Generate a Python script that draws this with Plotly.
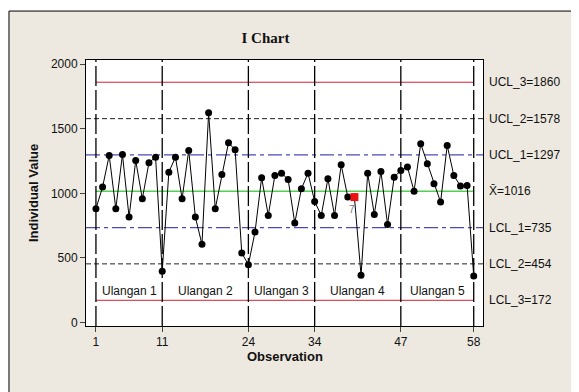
import plotly.graph_objects as go

# ---- data ----
observations = list(range(1, 59))
values = [881, 1048, 1293, 881, 1301, 816, 1254, 958, 1237, 1280,
          396, 1164, 1280, 958, 1332, 816, 605, 1623, 881, 1146,
          1391, 1337, 538, 448, 700, 1121, 829, 1138, 1156, 1107,
          770, 1035, 1156, 937, 829, 1113, 829, 1221, 971, 971,
          365, 1156, 837, 1169, 759, 1125, 1177, 1203, 1017, 1383,
          1229, 1074, 932, 1370, 1138, 1056, 1061, 360]
flagged_obs = [40]
flag_test = ["7"]

limit_names = ["UCL_3", "UCL_2", "UCL_1", "X̄", "LCL_1", "LCL_2", "LCL_3"]
limit_values = [1860, 1578, 1297, 1016, 735, 454, 172]
limit_kind = ["red", "black", "blue", "green", "blue", "black", "red"]

stage_bounds = [1, 11, 24, 34, 47, 58]
stage_labels = ["Ulangan 1", "Ulangan 2", "Ulangan 3", "Ulangan 4", "Ulangan 5"]
stage_label_y = 241

x_ticks = [1, 11, 24, 34, 47, 58]
y_ticks = [0, 500, 1000, 1500, 2000]

# ---- styles ----
BEIGE = "#EDE9E0"
FONT = "Liberation Sans"
styles = {
    "red": dict(color="#CC2233", width=1, dash="solid"),
    "black": dict(color="#222222", width=1, dash="5px,3px"),
    "blue": dict(color="#4B4BB8", width=1.3, dash="14px,4px,4px,4px"),
    "green": dict(color="#55D055", width=1.5, dash="solid"),
}

fig = go.Figure()

shapes = []
# outer beige panel
shapes.append(dict(type="rect", xref="paper", yref="paper", x0=-0.194, x1=1.35,
                   y0=-0.35, y1=1.184, fillcolor=BEIGE,
                   line=dict(color="black", width=1), layer="below"))
# plot area white
shapes.append(dict(type="rect", xref="paper", yref="paper", x0=0, x1=1, y0=0, y1=1,
                   fillcolor="white", line=dict(width=0), layer="below"))

# stage boundary lines
for b in stage_bounds:
    shapes.append(dict(type="line", xref="x", yref="paper", x0=b, x1=b, y0=0, y1=1,
                       line=dict(color="black", width=1.3, dash="20px,4px"), layer="above"))

# limit lines
for v, k in zip(limit_values, limit_kind):
    st = styles[k]
    if k in ("red", "green"):
        shapes.append(dict(type="line", xref="x", yref="y", x0=stage_bounds[0], x1=stage_bounds[-1],
                           y0=v, y1=v, line=st, layer="below"))
    else:
        shapes.append(dict(type="line", xref="paper", yref="y", x0=0, x1=1.008 if k == "black" else 1,
                           y0=v, y1=v, line=st, layer="below"))

fig.update_layout(shapes=shapes)

# data line
fig.add_trace(go.Scatter(x=observations, y=values, mode="lines+markers",
                         line=dict(color="black", width=1),
                         marker=dict(color="black", size=7, symbol="circle"),
                         hoverinfo="x+y", showlegend=False, cliponaxis=False))
# flagged points
fx = flagged_obs
fy = [values[o - 1] for o in flagged_obs]
fig.add_trace(go.Scatter(x=fx, y=fy, mode="markers",
                         marker=dict(color="#EE1111", size=8, symbol="square"),
                         showlegend=False))

annotations = []
for o, y, t in zip(fx, fy, flag_test):
    annotations.append(dict(x=o, y=y, xref="x", yref="y", text=t, showarrow=False,
                            yshift=-12, xshift=-2, font=dict(family=FONT, size=10, color="#777777")))

# stage labels
for i, lab in enumerate(stage_labels):
    mid = (stage_bounds[i] + stage_bounds[i + 1]) / 2
    annotations.append(dict(x=mid, y=stage_label_y, xref="x", yref="y", text=lab,
                            showarrow=False, font=dict(family=FONT, size=12, color="#111111")))

# right limit labels
for n, v in zip(limit_names, limit_values):
    annotations.append(dict(x=1, y=v, xref="paper", yref="y", text=f"{n}={v}",
                            xanchor="left", xshift=4, showarrow=False,
                            font=dict(family=FONT, size=12, color="#111111")))

# axis titles
annotations.append(dict(x=0.5, y=-0.113, xref="paper", yref="paper", text="<b>Observation</b>",
                        xanchor="center", yanchor="middle",
                        showarrow=False, font=dict(family=FONT, size=13, color="#111111")))
annotations.append(dict(x=-0.1335, y=0.5, xref="paper", yref="paper", text="<b>Individual Value</b>",
                        xanchor="center", yanchor="middle",
                        textangle=-90, showarrow=False, font=dict(family=FONT, size=13, color="#111111")))

fig.update_layout(
    width=571, height=384,
    margin=dict(l=78, r=96, t=52, b=66),
    paper_bgcolor="white",
    plot_bgcolor="rgba(0,0,0,0)",
    title=dict(text="<b>I Chart</b>", x=0.452, xref="paper", y=1 - 30 / 384, yref="container",
               xanchor="center", yanchor="middle",
               font=dict(family="Liberation Serif", size=15, color="#111111")),
    annotations=annotations,
    font=dict(family=FONT, size=12, color="#111111"),
    xaxis=dict(range=[-0.5, 59.4], tickvals=x_ticks, ticks="outside", ticklen=5,
               showgrid=False, zeroline=False, showline=True, linecolor="black",
               mirror=True, tickfont=dict(family=FONT, size=12, color="#111111")),
    yaxis=dict(range=[-27, 2032], tickvals=y_ticks, ticks="outside", ticklen=5,
               showgrid=False, zeroline=False, showline=True, linecolor="black",
               mirror=True, tickfont=dict(family=FONT, size=12, color="#111111")),
)

fig.write_html("out.html")
